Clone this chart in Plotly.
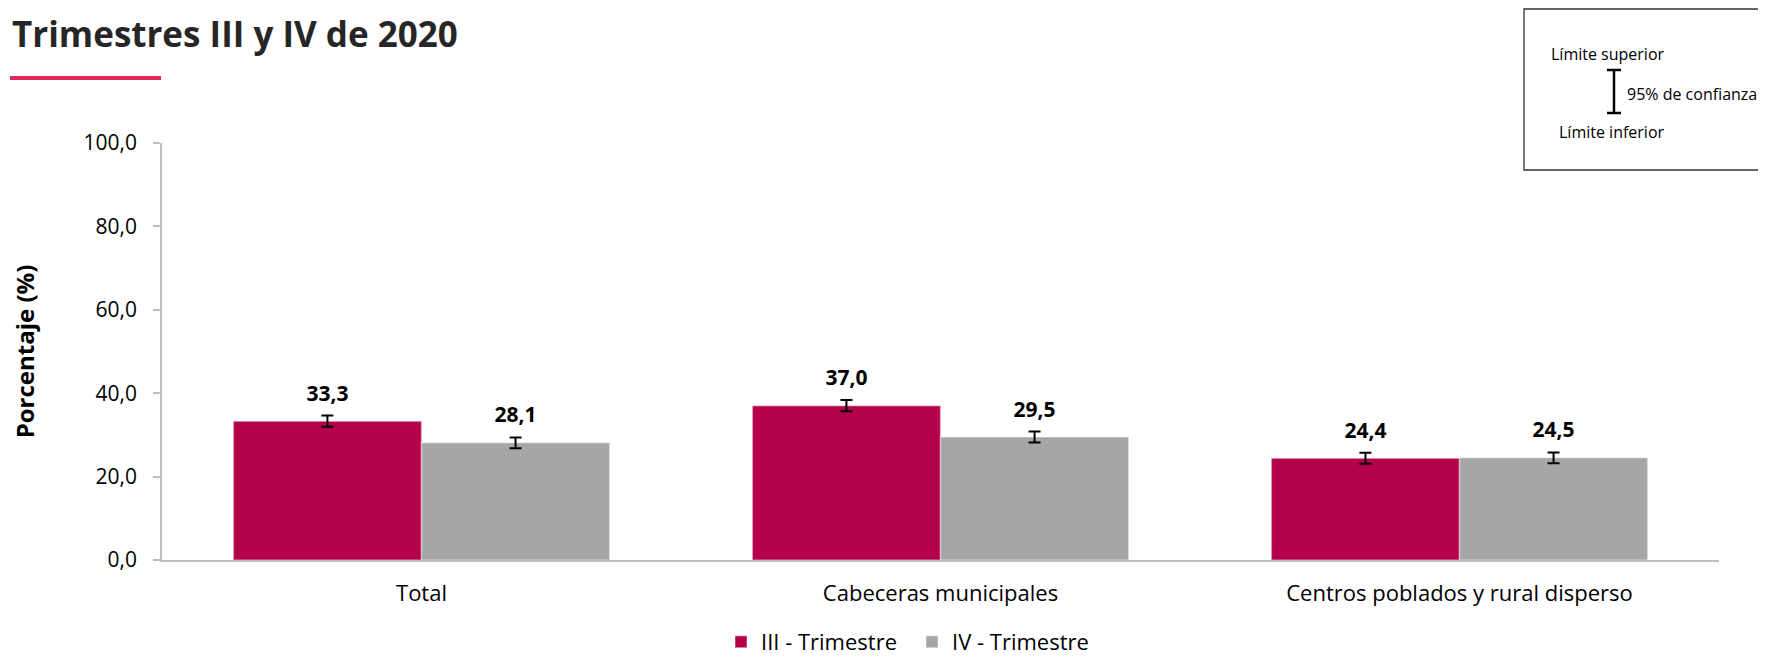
import plotly.graph_objects as go

# ── Data ──────────────────────────────────────────────────────────────────────
categories = ["Total", "Cabeceras municipales", "Centros poblados y rural disperso"]
series_names = ["III - Trimestre", "IV - Trimestre"]
values_iii = [33.3, 37.0, 24.4]
values_iv = [28.1, 29.5, 24.5]
err_iii = [1.35, 1.35, 1.3]
err_iv = [1.3, 1.3, 1.3]
y_ticks = [0, 20, 40, 60, 80, 100]
y_tick_labels = ["0,0", "20,0", "40,0", "60,0", "80,0", "100,0"]

RED = "#B5004B"
GRAY = "#A6A6A6"
FONT = "Open Sans, Noto Sans, sans-serif"

# page has an 8px body margin, so the figure is drawn 8px smaller and all
# page-pixel positions below are shifted by OFF
OFF = 8
W, H = 1766 - OFF, 659 - OFF
ML, MT = 162 - OFF, 143 - OFF
MR = W - (1719 - OFF)
MB = H - (560 - OFF)
PW, PH = W - ML - MR, H - MT - MB


def px(x):
    """page pixel x -> paper x"""
    return (x - OFF - ML) / PW


def py(y):
    """page pixel y -> paper y"""
    return (H - MB - (y - OFF)) / PH


def fmt(v):
    return f"{v:.1f}".replace(".", ",")


fig = go.Figure()

for name, vals, errs, color in [
    (series_names[0], values_iii, err_iii, RED),
    (series_names[1], values_iv, err_iv, GRAY),
]:
    fig.add_trace(go.Bar(
        x=categories, y=vals, name=name, offsetgroup=name,
        marker=dict(color=color, line=dict(color="rgba(255,255,255,0.35)", width=1.5)),
        error_y=dict(type="data", array=errs, visible=True,
                     color="#000000", thickness=2, width=6),
        hoverinfo="skip",
    ))
    fig.add_trace(go.Scatter(
        x=categories, y=[v + e for v, e in zip(vals, errs)],
        offsetgroup=name, mode="markers+text",
        text=[fmt(v) for v in vals], textposition="top center",
        textfont=dict(family=FONT, size=21, color="#000000", weight="bold"),
        marker=dict(size=14, opacity=0),
        showlegend=False, hoverinfo="skip", cliponaxis=False,
    ))

# ── Legend box (upper right) ──────────────────────────────────────────────────
fig.add_shape(type="rect", xref="paper", yref="paper",
              x0=px(1524), x1=px(1800), y0=py(170), y1=py(9),
              line=dict(color="#333333", width=1.3), fillcolor="rgba(0,0,0,0)")
# I-bar icon
ix, itop, ibot = 1614, 70, 113
fig.add_shape(type="line", xref="paper", yref="paper",
              x0=px(ix), x1=px(ix), y0=py(itop), y1=py(ibot),
              line=dict(color="#000000", width=2.5))
for yy in (itop, ibot):
    fig.add_shape(type="line", xref="paper", yref="paper",
                  x0=px(ix - 7), x1=px(ix + 7), y0=py(yy), y1=py(yy),
                  line=dict(color="#000000", width=2.5))
box_font = dict(family=FONT, size=16, color="#000000")
fig.add_annotation(text="Límite superior", xref="paper", yref="paper",
                   x=px(1549), y=py(54), xanchor="left", yanchor="middle",
                   showarrow=False, font=box_font)
fig.add_annotation(text="95% de confianza", xref="paper", yref="paper",
                   x=px(1625), y=py(94), xanchor="left", yanchor="middle",
                   showarrow=False, font=box_font)
fig.add_annotation(text="Límite inferior", xref="paper", yref="paper",
                   x=px(1557), y=py(132), xanchor="left", yanchor="middle",
                   showarrow=False, font=box_font)

# ── Title underline ───────────────────────────────────────────────────────────
fig.add_shape(type="line", xref="paper", yref="paper",
              x0=px(10), x1=px(161), y0=py(78), y1=py(78),
              line=dict(color="#E0285A", width=4))

fig.update_layout(
    width=W, height=H,
    margin=dict(l=ML, r=MR, t=MT, b=MB, autoexpand=False),
    paper_bgcolor="#FFFFFF", plot_bgcolor="#FFFFFF",
    font=dict(family=FONT, size=20, color="#000000"),
    title=dict(text="<b>Trimestres III y IV de 2020</b>",
               xref="container", yref="container",
               x=(12 - OFF) / W, y=1 - (35 - OFF) / H,
               xanchor="left", yanchor="middle",
               font=dict(family=FONT, size=35, color="#262626")),
    barmode="group", bargap=0.275, bargroupgap=0,
    scattermode="group", scattergap=0.275,
    showlegend=True,
    legend=dict(orientation="h", x=px(912), xanchor="center",
                y=py(642), yanchor="middle",
                font=dict(family=FONT, size=22, color="#000000"),
                itemwidth=30, entrywidth=146, entrywidthmode="pixels",
                traceorder="normal"),
    xaxis=dict(showgrid=False, zeroline=False, showline=True,
               linecolor="#BFBFBF", linewidth=1.5, ticks="",
               ticklabelstandoff=13,
               tickfont=dict(family=FONT, size=22, color="#000000")),
    yaxis=dict(range=[0, 100], tickvals=y_ticks, ticktext=y_tick_labels,
               showgrid=False, zeroline=False, showline=True,
               linecolor="#BFBFBF", linewidth=1.5,
               ticks="outside", ticklen=7, tickcolor="#BFBFBF", tickwidth=1.5,
               ticklabelstandoff=12,
               tickfont=dict(family=FONT, size=21, color="#000000"),
               title=dict(text="<b>Porcentaje (%)</b>", standoff=61,
                          font=dict(family=FONT, size=24, color="#000000"))),
)

fig.write_html("out.html")
